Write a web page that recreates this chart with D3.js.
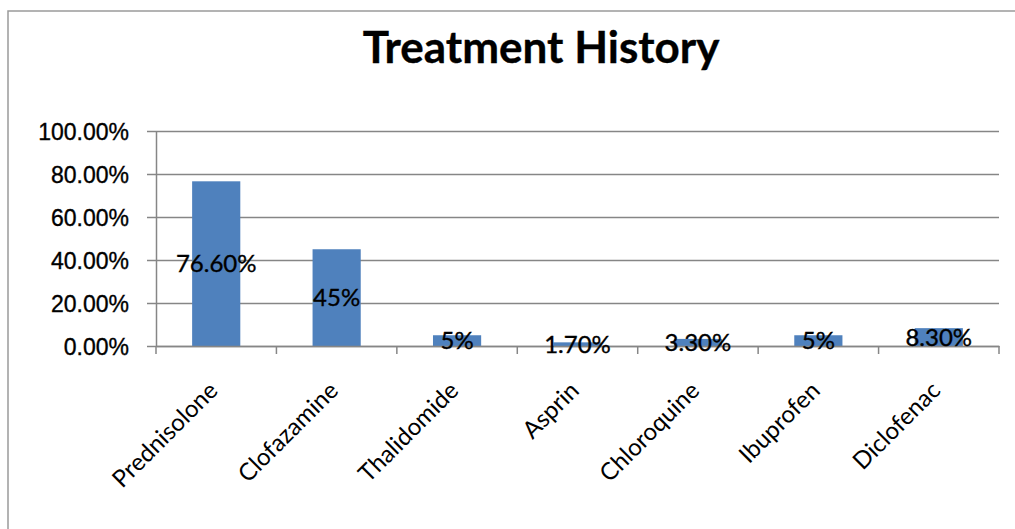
<!DOCTYPE html>
<html>
<head>
<meta charset="utf-8">
<script src="https://cdn.jsdelivr.net/npm/d3@7"></script>
<style>
  html, body { margin: 0; padding: 0; background: #fff; }
  svg { display: block; font-family: Lato, "Liberation Sans", sans-serif; }
  .lbl { fill: #000; stroke: #000; stroke-width: 0.35px; paint-order: stroke; }
</style>
</head>
<body>
<svg id="chart" width="1015" height="529"></svg>
<script>
// Share of patients with each prior treatment
const categories = ["Prednisolone", "Clofazamine", "Thalidomide", "Asprin", "Chloroquine", "Ibuprofen", "Diclofenac"];
const values = [0.766, 0.45, 0.05, 0.017, 0.033, 0.05, 0.083];
const valueLabels = ["76.60%", "45%", "5%", "1.70%", "3.30%", "5%", "8.30%"];
const yTicks = [0, 0.2, 0.4, 0.6, 0.8, 1.0];
const title = "Treatment History";

const svg = d3.select("#chart");
const W = 1015, H = 529;
const margin = { left: 156, right: 16, top: 131, bottom: 183 };

// outer chart frame (runs past the right and bottom edges)
svg.append("rect")
  .attr("x", 8).attr("y", 11)
  .attr("width", W + 50).attr("height", H + 50)
  .attr("fill", "#fff")
  .attr("stroke", "#9a9a9a").attr("stroke-width", 1.5);

const x = d3.scaleBand()
  .domain(categories)
  .range([margin.left, W - margin.right])
  .paddingInner(0.6).paddingOuter(0.3);

const band = d3.scaleBand().domain(categories).range([margin.left, W - margin.right]);

const y = d3.scaleLinear()
  .domain([0, 1])
  .range([H - margin.bottom, margin.top]);

// horizontal gridlines with y ticks
const yAxis = svg.append("g")
  .attr("transform", `translate(${margin.left},0)`)
  .call(d3.axisLeft(y).tickValues(yTicks).tickFormat(d3.format(".2%"))
    .tickSize(-(W - margin.right - margin.left)).tickSizeOuter(0).tickPadding(0));
yAxis.select(".domain").attr("stroke", "#868686").attr("stroke-width", 1.5);
yAxis.selectAll(".tick line")
  .attr("x1", -9)
  .attr("stroke", "#868686").attr("stroke-width", 1.5);
yAxis.selectAll(".tick text")
  .attr("class", "lbl")
  .attr("x", -27)
  .attr("dy", "0.36em")
  .style("font-size", "23px");

// bars
svg.append("g").selectAll("rect")
  .data(values)
  .join("rect")
  .attr("x", (d, i) => x(categories[i]))
  .attr("y", d => y(d))
  .attr("width", x.bandwidth())
  .attr("height", d => y(0) - y(d))
  .attr("fill", "#4f81bd");

// category axis
const xAxis = svg.append("g")
  .attr("transform", `translate(0,${y(0)})`)
  .call(d3.axisBottom(band).tickSize(0).tickSizeOuter(0).tickFormat(""));
xAxis.select(".domain").attr("stroke", "#868686").attr("stroke-width", 1.5);
xAxis.selectAll(".tick").remove();

// tick marks on category boundaries
const bounds = categories.map(c => band(c)).concat([band(categories[categories.length - 1]) + band.bandwidth()]);
svg.append("g").selectAll("line")
  .data(bounds)
  .join("line")
  .attr("x1", d => d).attr("x2", d => d)
  .attr("y1", y(0)).attr("y2", y(0) + 8)
  .attr("stroke", "#868686").attr("stroke-width", 1.5);

// rotated category labels
svg.append("g").selectAll("text")
  .data(categories)
  .join("text")
  .attr("transform", d => `translate(${band(d) + band.bandwidth() / 2 + 3},${y(0) + 46}) rotate(-45)`)
  .attr("text-anchor", "end")
  .attr("fill", "#000")
  .style("font-size", "24px")
  .text(d => d);

// value labels centred in each bar
svg.append("g").selectAll("text")
  .data(values)
  .join("text")
  .attr("class", "lbl")
  .attr("x", (d, i) => x(categories[i]) + x.bandwidth() / 2)
  .attr("y", d => (y(d) + y(0)) / 2)
  .attr("dy", "0.36em")
  .attr("text-anchor", "middle")
  .style("font-size", "24px")
  .text((d, i) => valueLabels[i]);

// title
svg.append("text")
  .attr("class", "lbl")
  .attr("x", 541).attr("y", 63)
  .attr("text-anchor", "middle")
  .style("font-size", "44px")
  .style("font-weight", "bold")
  .text(title);
</script>
</body>
</html>
